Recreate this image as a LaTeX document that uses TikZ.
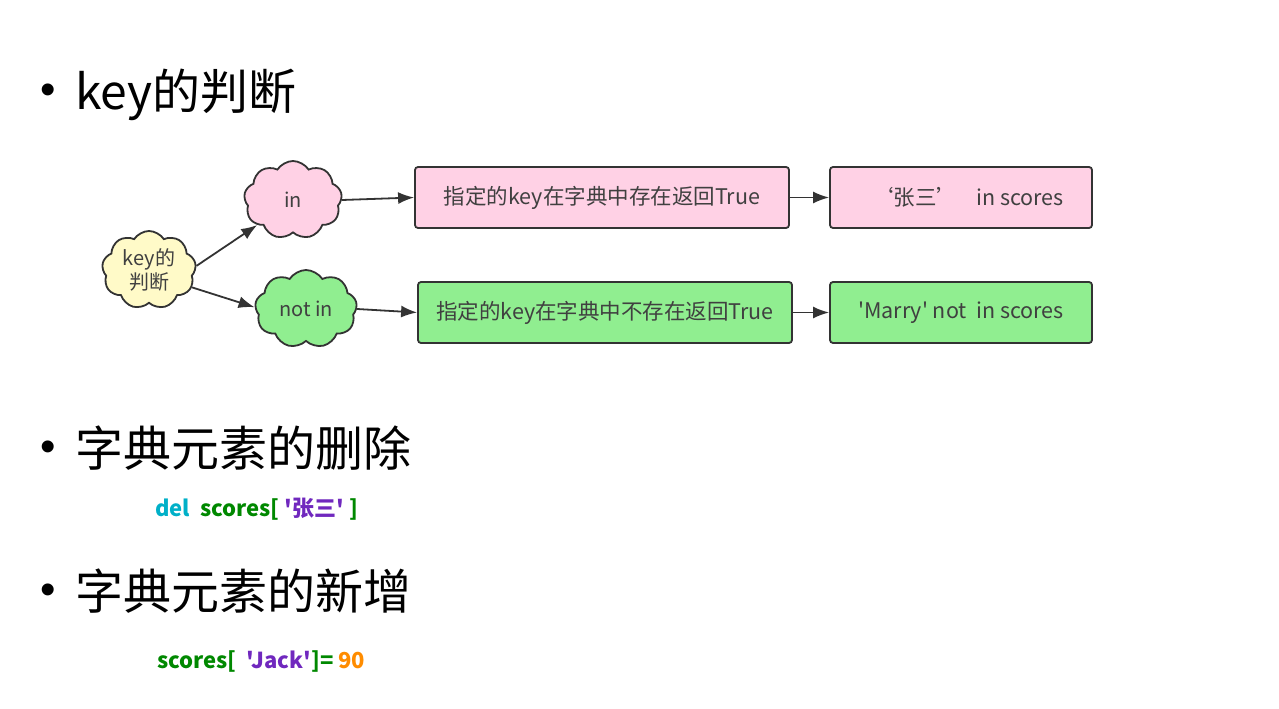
\documentclass[tikz,border=0pt]{standalone}
\usepackage{fontspec}
\setmainfont{Noto Sans CJK SC}[Ligatures=TeXOff]
\newfontfamily\bulletfont{Liberation Sans}
\usetikzlibrary{shapes.symbols,arrows.meta}
\definecolor{kv_yellow}{RGB}{255, 250, 200}
\definecolor{kv_pink}{RGB}{255, 209, 229}
\definecolor{kv_green}{RGB}{144, 238, 144}
\definecolor{kv_line}{RGB}{51, 51, 51}
\definecolor{kv_text}{RGB}{64, 64, 64}
\definecolor{code_cyan}{RGB}{0, 176, 200}
\definecolor{code_green}{RGB}{0, 136, 0}
\definecolor{code_purple}{RGB}{112, 40, 190}
\definecolor{code_orange}{RGB}{255, 140, 0}
\newcommand{\bul}{\makebox[35pt][l]{\raisebox{5pt}{\bulletfont\fontsize{44}{50}\selectfont •}}}
\tikzstyle{cl}=[cloud,cloud puffs=9,cloud puff arc=115,aspect=1.3,draw=kv_line,
  line width=1.8pt,inner sep=0pt,text=kv_text,font=\fontsize{20}{24}\selectfont]
\tikzstyle{bx}=[rectangle,rounded corners=3pt,draw=kv_line,line width=1.8pt,
  minimum height=61pt,text=kv_text,font=\fontsize{21.5}{26}\selectfont]
\tikzstyle{hd}=[anchor=west,inner sep=0pt,font=\fontsize{48}{56}\selectfont]
\tikzstyle{cd}=[anchor=west,inner sep=0pt,font=\bfseries\fontsize{22}{26}\selectfont]
\tikzstyle{ar}=[draw=kv_line,line width=1.8pt,-{Latex[length=16pt,width=12pt]}]

\begin{document}
\begin{tikzpicture}[x=1pt,y=-1pt]
    \useasboundingbox (0,0) rectangle (1279,709);
    % headings
    \node [hd] (h1) at (40, 95) {\bul key的判断};
    \node [hd] (h2) at (40, 448) {\bul 字典元素的删除};
    \node [hd] (h3) at (40, 591) {\bul 字典元素的新增};
    % clouds
    \node [style=cl,fill=kv_yellow,minimum width=94pt,minimum height=78pt,align=center] (key) at (149, 270) {key的\\[0pt]判断};
    \node [style=cl,fill=kv_pink,minimum width=98pt,minimum height=78pt] (in) at (293, 200) {in};
    \node [style=cl,fill=kv_green,minimum width=102pt,minimum height=78pt] (notin) at (306, 309) {not in};
    % boxes
    \node [style=bx,fill=kv_pink,minimum width=374pt] (t1) at (602, 197.5) {指定的key在字典中存在返回True};
    \node [style=bx,fill=kv_pink,minimum width=262pt] (t2) at (961, 197.5) {\hspace*{14pt}‘张三’\hspace{18pt}in scores};
    \node [style=bx,fill=kv_green,minimum width=374pt] (f1) at (605, 312.5) {指定的key在字典中不存在返回True};
    \node [style=bx,fill=kv_green,minimum width=262pt] (f2) at (961, 312.5) {'Marry' not\ \ in scores};
    % code lines
    \node [cd] (c1) at (155, 509) {\textcolor{code_cyan}{del}\ \ \textcolor{code_green}{scores[}\ \textcolor{code_purple}{'张三'}\ \textcolor{code_green}{]}};
    \node [cd] (c2) at (157, 661) {\textcolor{code_green}{scores[}\ \ \textcolor{code_purple}{'Jack'}\textcolor{code_green}{]=}\ \textcolor{code_orange}{90}};
    % connectors
    \draw [style=ar] (key.5) to (in.215);
    \draw [style=ar] (key.-22) to (notin.178);
    \draw [style=ar] (in.east) to (t1.west);
    \draw [style=ar] (notin.east) to (f1.west);
    \draw [style=ar] (t1.east) to (t2.west);
    \draw [style=ar] (f1.east) to (f2.west);
\end{tikzpicture}
\end{document}
